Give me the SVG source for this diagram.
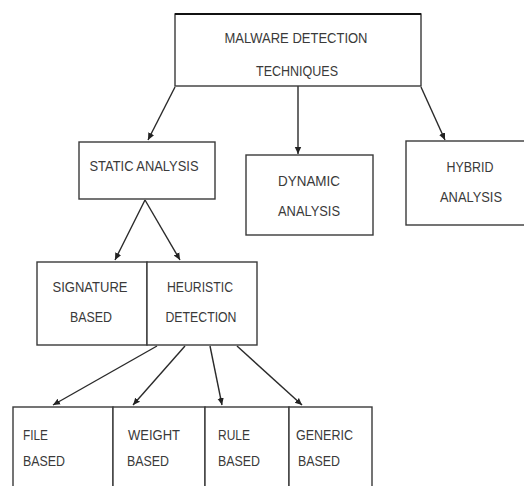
<svg xmlns="http://www.w3.org/2000/svg" width="524" height="486" viewBox="0 0 524 486">
<defs>
<marker id="ah" markerWidth="8" markerHeight="8" refX="7" refY="4" orient="auto" markerUnits="userSpaceOnUse">
<path d="M0,0.8 L7,4 L0,7.2 Z" fill="#222"/>
</marker>
<style>
.box{fill:#fff;stroke:#3a3a3a;stroke-width:1.4}
.t{font-family:"Liberation Sans",Arial,sans-serif;font-size:15px;fill:#3a3a3a}
.c{text-anchor:middle}
.ln{stroke:#2a2a2a;stroke-width:1.4;fill:none;marker-end:url(#ah)}
</style>
</defs>
<rect width="524" height="486" fill="#fff"/>
<g id="connectors">
<line class="ln" x1="175" y1="87" x2="148" y2="140"/>
<line class="ln" x1="298" y1="86" x2="298" y2="154"/>
<line class="ln" x1="421" y1="87" x2="445" y2="140"/>
<line class="ln" x1="145" y1="200" x2="115" y2="260"/>
<line class="ln" x1="145" y1="200" x2="180" y2="260"/>
<line class="ln" x1="157" y1="346" x2="53" y2="405"/>
<line class="ln" x1="185" y1="346" x2="133" y2="405"/>
<line class="ln" x1="210" y1="346" x2="222" y2="405"/>
<line class="ln" x1="237" y1="346" x2="302" y2="405"/>
</g>
<g id="n-root">
<rect class="box" x="175" y="14" width="246" height="72"/>
<line x1="175" y1="14" x2="421" y2="14" stroke="#111" stroke-width="2"/>
<text class="t c" x="296" y="43" textLength="143" lengthAdjust="spacingAndGlyphs">MALWARE DETECTION</text>
<text class="t c" x="297" y="76" textLength="82" lengthAdjust="spacingAndGlyphs">TECHNIQUES</text>
</g>
<g id="n-static">
<rect class="box" x="79" y="142" width="136" height="57"/>
<text class="t c" x="144" y="171" textLength="109" lengthAdjust="spacingAndGlyphs">STATIC ANALYSIS</text>
</g>
<g id="n-dynamic">
<rect class="box" x="246" y="155" width="127" height="80"/>
<text class="t c" x="309" y="186" textLength="62" lengthAdjust="spacingAndGlyphs">DYNAMIC</text>
<text class="t c" x="309" y="216" textLength="62" lengthAdjust="spacingAndGlyphs">ANALYSIS</text>
</g>
<g id="n-hybrid">
<rect class="box" x="406" y="141" width="130" height="84"/>
<text class="t c" x="470" y="172" textLength="47" lengthAdjust="spacingAndGlyphs">HYBRID</text>
<text class="t c" x="471" y="202" textLength="62" lengthAdjust="spacingAndGlyphs">ANALYSIS</text>
</g>
<g id="n-signature">
<rect class="box" x="37" y="262" width="110" height="83"/>
<text class="t c" x="90" y="292" textLength="75" lengthAdjust="spacingAndGlyphs">SIGNATURE</text>
<text class="t c" x="91" y="322" textLength="42" lengthAdjust="spacingAndGlyphs">BASED</text>
</g>
<g id="n-heuristic">
<rect class="box" x="147" y="262" width="110" height="83"/>
<text class="t c" x="200" y="292" textLength="66" lengthAdjust="spacingAndGlyphs">HEURISTIC</text>
<text class="t c" x="201" y="322" textLength="71" lengthAdjust="spacingAndGlyphs">DETECTION</text>
</g>
<g id="n-file">
<rect class="box" x="13" y="407" width="100" height="100"/>
<text class="t" x="23" y="440" textLength="25" lengthAdjust="spacingAndGlyphs">FILE</text>
<text class="t" x="23" y="466" textLength="42" lengthAdjust="spacingAndGlyphs">BASED</text>
</g>
<g id="n-weight">
<rect class="box" x="113" y="407" width="92" height="100"/>
<text class="t" x="128" y="440" textLength="52" lengthAdjust="spacingAndGlyphs">WEIGHT</text>
<text class="t" x="127" y="466" textLength="42" lengthAdjust="spacingAndGlyphs">BASED</text>
</g>
<g id="n-rule">
<rect class="box" x="205" y="407" width="84" height="100"/>
<text class="t" x="218" y="440" textLength="32" lengthAdjust="spacingAndGlyphs">RULE</text>
<text class="t" x="218" y="466" textLength="42" lengthAdjust="spacingAndGlyphs">BASED</text>
</g>
<g id="n-generic">
<rect class="box" x="289" y="407" width="83" height="100"/>
<text class="t" x="296" y="440" textLength="57" lengthAdjust="spacingAndGlyphs">GENERIC</text>
<text class="t" x="298" y="466" textLength="42" lengthAdjust="spacingAndGlyphs">BASED</text>
</g>
</svg>
